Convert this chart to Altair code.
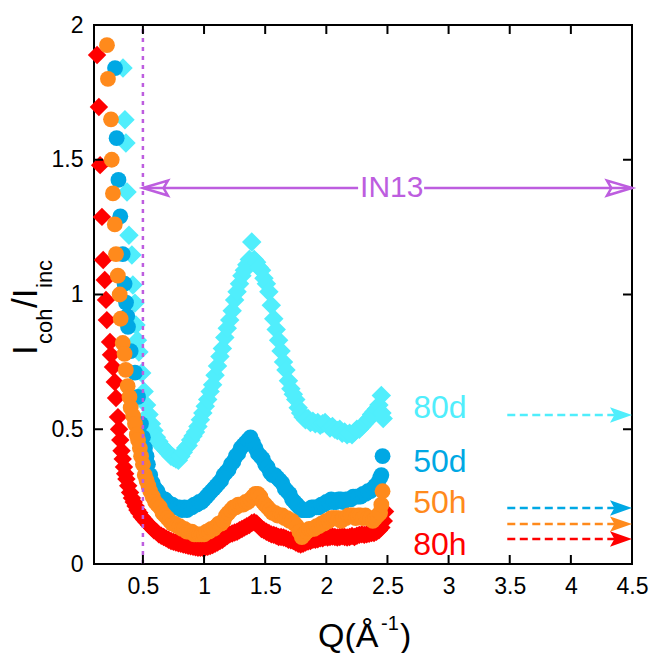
import altair as alt
import pandas as pd

# ---------------- data ----------------
q_80d = [0.337, 0.353, 0.361, 0.370, 0.386, 0.410, 0.418, 0.435, 0.443, 0.455, 0.467, 0.490,
         0.510, 0.530, 0.550, 0.570, 0.590, 0.610, 0.630, 0.650, 0.670, 0.690, 0.710, 0.730,
         0.750, 0.770, 0.790, 0.810, 0.830, 0.850, 0.870, 0.890, 0.910, 0.930, 0.950, 0.970,
         0.990, 1.010, 1.030, 1.050, 1.070, 1.090, 1.110, 1.130, 1.150, 1.170, 1.190, 1.210,
         1.230, 1.250, 1.270, 1.290, 1.310, 1.330, 1.350, 1.370, 1.390, 1.410, 1.430, 1.450,
         1.470, 1.490, 1.510, 1.530, 1.550, 1.570, 1.590, 1.610, 1.630, 1.650, 1.670, 1.690,
         1.710, 1.730, 1.750, 1.770, 1.790, 1.810, 1.830, 1.850, 1.870, 1.890, 1.910, 1.930,
         1.950, 1.970, 1.990, 2.010, 2.030, 2.050, 2.070, 2.090, 2.110, 2.130, 2.150, 2.170,
         2.190, 2.210, 2.230, 2.250, 2.270, 2.290, 2.310, 2.330, 2.350, 2.370, 2.390, 2.410,
         2.430, 2.450, 2.455, 2.465]
i_80d = [1.84, 1.648, 1.562, 1.38, 1.22, 1.147, 1.035, 0.968, 0.887, 0.83, 0.787, 0.709,
         0.64, 0.59, 0.555, 0.52, 0.495, 0.47, 0.455, 0.44, 0.43, 0.42, 0.41, 0.40,
         0.395, 0.39, 0.385, 0.40, 0.415, 0.43, 0.44, 0.46, 0.475, 0.49, 0.51, 0.535,
         0.56, 0.585, 0.61, 0.64, 0.665, 0.70, 0.735, 0.77, 0.80, 0.84, 0.875, 0.905,
         0.94, 0.98, 1.01, 1.04, 1.07, 1.09, 1.11, 1.13, 1.195, 1.13, 1.12, 1.10,
         1.09, 1.06, 1.04, 1.01, 0.96, 0.91, 0.87, 0.83, 0.79, 0.75, 0.72, 0.68,
         0.65, 0.63, 0.61, 0.58, 0.56, 0.545, 0.535, 0.54, 0.525, 0.53, 0.52, 0.525,
         0.515, 0.52, 0.525, 0.515, 0.505, 0.51, 0.50, 0.495, 0.50, 0.485, 0.49, 0.48,
         0.485, 0.48, 0.49, 0.50, 0.50, 0.51, 0.52, 0.53, 0.54, 0.555, 0.565, 0.575,
         0.59, 0.625, 0.56, 0.54]

q_50d = [0.272, 0.285, 0.300, 0.315, 0.335, 0.350, 0.362, 0.372, 0.378, 0.400, 0.435, 0.460,
         0.484, 0.500, 0.517, 0.530, 0.541, 0.560, 0.580, 0.600, 0.620, 0.640, 0.660, 0.680,
         0.700, 0.720, 0.740, 0.760, 0.780, 0.800, 0.820, 0.840, 0.860, 0.880, 0.900, 0.920,
         0.940, 0.960, 0.980, 1.000, 1.020, 1.040, 1.060, 1.080, 1.100, 1.120, 1.140, 1.160,
         1.180, 1.200, 1.220, 1.240, 1.260, 1.280, 1.300, 1.320, 1.340, 1.360, 1.380, 1.400,
         1.420, 1.440, 1.460, 1.480, 1.500, 1.520, 1.540, 1.560, 1.580, 1.600, 1.620, 1.640,
         1.660, 1.680, 1.700, 1.720, 1.740, 1.760, 1.780, 1.800, 1.820, 1.840, 1.860, 1.880,
         1.900, 1.920, 1.940, 1.960, 1.980, 2.000, 2.020, 2.040, 2.060, 2.080, 2.100, 2.120,
         2.140, 2.160, 2.180, 2.200, 2.220, 2.240, 2.260, 2.280, 2.300, 2.320, 2.340, 2.360,
         2.380, 2.400, 2.420, 2.440, 2.450, 2.460]
i_50d = [1.84, 1.58, 1.425, 1.29, 1.15, 1.04, 0.97, 0.92, 0.88, 0.79, 0.71, 0.62,
         0.52, 0.47, 0.43, 0.40, 0.37, 0.33, 0.30, 0.28, 0.27, 0.25, 0.24, 0.24,
         0.23, 0.22, 0.22, 0.21, 0.21, 0.21, 0.20, 0.21, 0.20, 0.21, 0.21, 0.22,
         0.22, 0.23, 0.23, 0.24, 0.25, 0.26, 0.27, 0.28, 0.29, 0.30, 0.31, 0.33,
         0.34, 0.35, 0.37, 0.38, 0.40, 0.41, 0.43, 0.44, 0.45, 0.46, 0.47, 0.45,
         0.43, 0.41, 0.40, 0.39, 0.37, 0.36, 0.34, 0.33, 0.33, 0.32, 0.31, 0.30,
         0.28, 0.27, 0.26, 0.24, 0.23, 0.22, 0.21, 0.20, 0.20, 0.20, 0.20, 0.21,
         0.21, 0.21, 0.21, 0.22, 0.22, 0.23, 0.23, 0.24, 0.23, 0.23, 0.24, 0.24,
         0.23, 0.24, 0.24, 0.24, 0.25, 0.25, 0.25, 0.25, 0.26, 0.26, 0.27, 0.27,
         0.28, 0.29, 0.30, 0.32, 0.33, 0.40]

q_50h = [0.206, 0.214, 0.239, 0.245, 0.255, 0.270, 0.280, 0.295, 0.310, 0.318, 0.335, 0.350,
         0.360, 0.375, 0.390, 0.400, 0.420, 0.435, 0.450, 0.460, 0.475, 0.485, 0.500, 0.515,
         0.530, 0.545, 0.560, 0.580, 0.600, 0.620, 0.640, 0.660, 0.680, 0.700, 0.720, 0.740,
         0.760, 0.780, 0.800, 0.820, 0.840, 0.860, 0.880, 0.900, 0.920, 0.940, 0.960, 0.980,
         1.000, 1.020, 1.040, 1.060, 1.080, 1.100, 1.120, 1.140, 1.160, 1.180, 1.200, 1.220,
         1.240, 1.260, 1.280, 1.300, 1.320, 1.340, 1.360, 1.380, 1.400, 1.420, 1.440, 1.460,
         1.480, 1.500, 1.520, 1.540, 1.560, 1.580, 1.600, 1.620, 1.640, 1.660, 1.680, 1.700,
         1.720, 1.740, 1.760, 1.780, 1.800, 1.820, 1.840, 1.860, 1.880, 1.900, 1.920, 1.940,
         1.960, 1.980, 2.000, 2.020, 2.040, 2.060, 2.080, 2.100, 2.120, 2.140, 2.160, 2.180,
         2.200, 2.220, 2.240, 2.260, 2.280, 2.300, 2.320, 2.340, 2.360, 2.380, 2.400, 2.420,
         2.440, 2.450, 2.460]
i_50h = [1.925, 1.80, 1.65, 1.50, 1.375, 1.26, 1.15, 1.07, 1.00, 0.91, 0.82, 0.78,
         0.72, 0.66, 0.62, 0.58, 0.55, 0.52, 0.48, 0.46, 0.43, 0.40, 0.37, 0.33,
         0.31, 0.29, 0.27, 0.25, 0.23, 0.22, 0.21, 0.19, 0.18, 0.17, 0.16, 0.15,
         0.15, 0.14, 0.14, 0.13, 0.13, 0.12, 0.12, 0.12, 0.11, 0.11, 0.11, 0.11,
         0.11, 0.12, 0.12, 0.13, 0.13, 0.14, 0.15, 0.15, 0.16, 0.18, 0.19, 0.20,
         0.21, 0.21, 0.22, 0.22, 0.22, 0.23, 0.23, 0.24, 0.25, 0.26, 0.26, 0.25,
         0.23, 0.22, 0.21, 0.20, 0.19, 0.19, 0.18, 0.18, 0.18, 0.17, 0.17, 0.16,
         0.16, 0.15, 0.14, 0.12, 0.10, 0.11, 0.12, 0.13, 0.13, 0.13, 0.14, 0.14,
         0.15, 0.15, 0.16, 0.16, 0.17, 0.17, 0.17, 0.17, 0.16, 0.17, 0.17, 0.18,
         0.18, 0.18, 0.17, 0.18, 0.18, 0.17, 0.18, 0.17, 0.17, 0.16, 0.17, 0.18,
         0.19, 0.22, 0.27]

q_80h = [0.125, 0.140, 0.150, 0.165, 0.175, 0.188, 0.198, 0.205, 0.231, 0.239, 0.255, 0.270,
         0.280, 0.296, 0.305, 0.315, 0.325, 0.335, 0.345, 0.355, 0.365, 0.380, 0.395, 0.410,
         0.425, 0.440, 0.455, 0.470, 0.490, 0.510, 0.530, 0.550, 0.570, 0.590, 0.610, 0.630,
         0.650, 0.670, 0.690, 0.710, 0.730, 0.750, 0.770, 0.790, 0.810, 0.830, 0.850, 0.870,
         0.890, 0.910, 0.930, 0.950, 0.970, 0.990, 1.010, 1.030, 1.050, 1.070, 1.090, 1.110,
         1.130, 1.150, 1.170, 1.190, 1.210, 1.230, 1.250, 1.270, 1.290, 1.310, 1.330, 1.350,
         1.370, 1.390, 1.410, 1.430, 1.450, 1.470, 1.490, 1.510, 1.530, 1.550, 1.570, 1.590,
         1.610, 1.630, 1.650, 1.670, 1.690, 1.710, 1.730, 1.750, 1.770, 1.790, 1.810, 1.830,
         1.850, 1.870, 1.890, 1.910, 1.930, 1.950, 1.970, 1.990, 2.010, 2.030, 2.050, 2.070,
         2.090, 2.110, 2.130, 2.150, 2.170, 2.190, 2.210, 2.230, 2.250, 2.270, 2.290, 2.310,
         2.330, 2.350, 2.370, 2.390, 2.410, 2.430, 2.450, 2.470, 2.480]
i_80h = [1.889, 1.696, 1.48, 1.288, 1.128, 1.054, 0.98, 0.905, 0.824, 0.776, 0.731, 0.675,
         0.616, 0.545, 0.50, 0.46, 0.42, 0.39, 0.36, 0.335, 0.315, 0.29, 0.265, 0.245,
         0.23, 0.215, 0.20, 0.19, 0.175, 0.165, 0.155, 0.145, 0.135, 0.125, 0.12, 0.11,
         0.105, 0.10, 0.095, 0.09, 0.085, 0.082, 0.08, 0.077, 0.075, 0.072, 0.07, 0.068,
         0.066, 0.064, 0.062, 0.06, 0.06, 0.06, 0.062, 0.064, 0.067, 0.07, 0.075, 0.08,
         0.085, 0.09, 0.097, 0.104, 0.11, 0.113, 0.117, 0.12, 0.125, 0.13, 0.135, 0.14,
         0.145, 0.152, 0.155, 0.15, 0.14, 0.13, 0.125, 0.12, 0.115, 0.11, 0.108, 0.105,
         0.10, 0.10, 0.098, 0.095, 0.09, 0.088, 0.085, 0.08, 0.075, 0.072, 0.075, 0.08,
         0.083, 0.085, 0.09, 0.09, 0.092, 0.095, 0.095, 0.10, 0.098, 0.10, 0.102, 0.10,
         0.098, 0.10, 0.103, 0.10, 0.098, 0.10, 0.104, 0.10, 0.105, 0.108, 0.11, 0.108,
         0.11, 0.112, 0.115, 0.115, 0.12, 0.125, 0.135, 0.16, 0.195]

series_names = ["80d", "50d", "50h", "80h"]
series_colors = ["#50EEFC", "#00A8E4", "#FF8A1C", "#FF0000"]

# legend-like labels (text) and dashed arrow levels
label_q = [2.71, 2.71, 2.71, 2.71]
label_i = [0.542, 0.341, 0.189, 0.033]
arrow_level = [0.553, 0.208, 0.148, 0.093]
arrow_q_start = [3.48, 3.48, 3.48, 3.48]
arrow_q_end = [4.5, 4.5, 4.5, 4.5]
arrow_line_end = [4.36, 4.36, 4.36, 4.36]

# IN13 range annotation
in13_q = [0.5, 4.5]
in13_level = 1.395
in13_gap = [2.26, 2.80]
in13_label_q = 2.535
in13_label_i = 1.362
cut_q = 0.5

x_ticks = [0.5, 1, 1.5, 2, 2.5, 3, 3.5, 4, 4.5]
y_ticks = [0, 0.5, 1, 1.5, 2]

# ---------------- chart ----------------
W, H = 538, 539
FONT = "Liberation Sans"
PURPLE = "#BD5DDF"

xs = alt.Scale(domain=[0.1, 4.5], nice=False, zero=False)
ys = alt.Scale(domain=[0, 2], nice=False, zero=False)
cs = alt.Scale(domain=series_names, range=series_colors)

def frame(q, i, name):
    return pd.DataFrame({"Q": q, "I": i, "series": name})

d80d = frame(q_80d, i_80d, "80d")
d50d = frame(q_50d, i_50d, "50d")
d50h = frame(q_50h, i_50h, "50h")
d80h = frame(q_80h, i_80h, "80h")

xaxis = alt.Axis(values=x_ticks, format="~g", labelFontSize=23, labelFont=FONT,
                 labelColor="black", ticks=False, domain=False, grid=False,
                 labelPadding=11, labelFlush=False)
yaxis = alt.Axis(values=y_ticks, format="~g", labelFontSize=23, labelFont=FONT,
                 labelColor="black", ticks=False, domain=False, grid=False,
                 labelPadding=11, labelFlush=False)

def X(field="Q"):
    return alt.X(f"{field}:Q", scale=xs, axis=xaxis, title=None)

def Y(field="I"):
    return alt.Y(f"{field}:Q", scale=ys, axis=yaxis, title=None)

col = alt.Color("series:N", scale=cs, legend=None)

l_80d = alt.Chart(d80d).mark_point(shape="diamond", filled=True, size=380, opacity=1).encode(
    x=X(), y=Y(), color=col)
l_50d = alt.Chart(d50d).mark_circle(size=250, opacity=1).encode(x=X(), y=Y(), color=col)
l_80h = alt.Chart(d80h).mark_point(shape="diamond", filled=True, size=340, opacity=1).encode(
    x=X(), y=Y(), color=col)
l_50h = alt.Chart(d50h).mark_circle(size=250, opacity=1).encode(x=X(), y=Y(), color=col)

# vertical dotted line at Q = 0.5
cut = alt.Chart(pd.DataFrame({"Q": [cut_q], "y0": [0], "y1": [2]})).mark_rule(
    color=PURPLE, strokeWidth=2.5, strokeDash=[4, 5]).encode(
    x=X(), y=Y("y0"), y2="y1:Q")

# IN13 double arrow
in13_lines = alt.Chart(pd.DataFrame({
    "a": [in13_q[0], in13_gap[1]], "b": [in13_gap[0], in13_q[1]],
    "I": [in13_level, in13_level]})).mark_rule(color=PURPLE, strokeWidth=2.5).encode(
    x=X("a"), x2="b:Q", y=Y())
in13_left = alt.Chart(pd.DataFrame({"Q": [in13_q[0]], "I": [in13_level]})).mark_point(
    shape="M0,0L2,-0.6L1.65,0L2,0.6Z", filled=False, size=625, stroke=PURPLE,
    strokeWidth=2.5, opacity=1).encode(x=X(), y=Y())
in13_right = alt.Chart(pd.DataFrame({"Q": [in13_q[1]], "I": [in13_level]})).mark_point(
    shape="M0,0L-2,-0.6L-1.65,0L-2,0.6Z", filled=False, size=625, stroke=PURPLE,
    strokeWidth=2.5, opacity=1).encode(x=X(), y=Y())
in13_text = alt.Chart(pd.DataFrame({"Q": [in13_label_q], "I": [in13_label_i], "t": ["IN13"]})).mark_text(
    font=FONT, fontSize=30, color=PURPLE, align="center", baseline="alphabetic").encode(
    x=X(), y=Y(), text="t:N")

# series labels
labels = alt.Chart(pd.DataFrame({"Q": label_q, "I": label_i, "series": series_names})).mark_text(
    font=FONT, fontSize=32, align="left", baseline="alphabetic").encode(
    x=X(), y=Y(), text="series:N", color=col)

# dashed arrows
arr_df = pd.DataFrame({"a": arrow_q_start, "b": arrow_line_end, "Q": arrow_q_end,
                       "I": arrow_level, "series": series_names})
arr_lines = alt.Chart(arr_df).mark_rule(strokeWidth=2.5, strokeDash=[8, 4.5]).encode(
    x=X("a"), x2="b:Q", y=Y(), color=col)
arr_heads = alt.Chart(arr_df).mark_point(
    shape="M0,0L-2,-0.7L-1.6,0L-2,0.7Z", filled=True, size=484, opacity=1).encode(
    x=X(), y=Y(), color=col)

# inward ticks (all four sides)
xt = pd.DataFrame({"Q": x_ticks})
yt = pd.DataFrame({"I": y_ticks})
tick_b = alt.Chart(xt).mark_rule(color="black", strokeWidth=2).encode(
    x=X(), y=alt.value(H), y2=alt.value(H - 9))
tick_t = alt.Chart(xt).mark_rule(color="black", strokeWidth=2).encode(
    x=X(), y=alt.value(0), y2=alt.value(9))
tick_l = alt.Chart(yt).mark_rule(color="black", strokeWidth=2).encode(
    y=Y(), x=alt.value(0), x2=alt.value(9))
tick_r = alt.Chart(yt).mark_rule(color="black", strokeWidth=2).encode(
    y=Y(), x=alt.value(W), x2=alt.value(W - 9))

# axis titles composed of text pieces (sub/superscripts)
def piece(txt, px, py, size, angle=0):
    return alt.Chart(pd.DataFrame({"t": [txt]})).mark_text(
        font=FONT, fontSize=size, color="black", align="left", baseline="alphabetic",
        angle=angle).encode(text="t:N", x=alt.value(px), y=alt.value(py))

ytitle = [piece("I", -57, 330, 35, 270), piece("coh", -42, 319, 22, 270),
          piece("/I", -57, 283, 35, 270), piece("inc", -42, 263, 22, 270)]
xtitle = [piece("Q(Å", 224, 622, 34), piece("-1", 287, 605, 20), piece(")", 306, 622, 34)]

chart = alt.layer(
    l_80d, l_50d, l_80h, l_50h,
    cut, in13_lines, in13_left, in13_right, in13_text,
    labels, arr_lines, arr_heads,
    tick_b, tick_t, tick_l, tick_r,
    *ytitle, *xtitle
).properties(
    width=W, height=H,
    autosize=alt.AutoSizeParams(type="none"),
    padding={"left": 94, "top": 25, "right": 21, "bottom": 89},
).configure(
    background="white",
    view=alt.ViewConfig(stroke="black", strokeWidth=2),
)

chart.save("out.html", embed_options={"renderer": "svg", "actions": False})
